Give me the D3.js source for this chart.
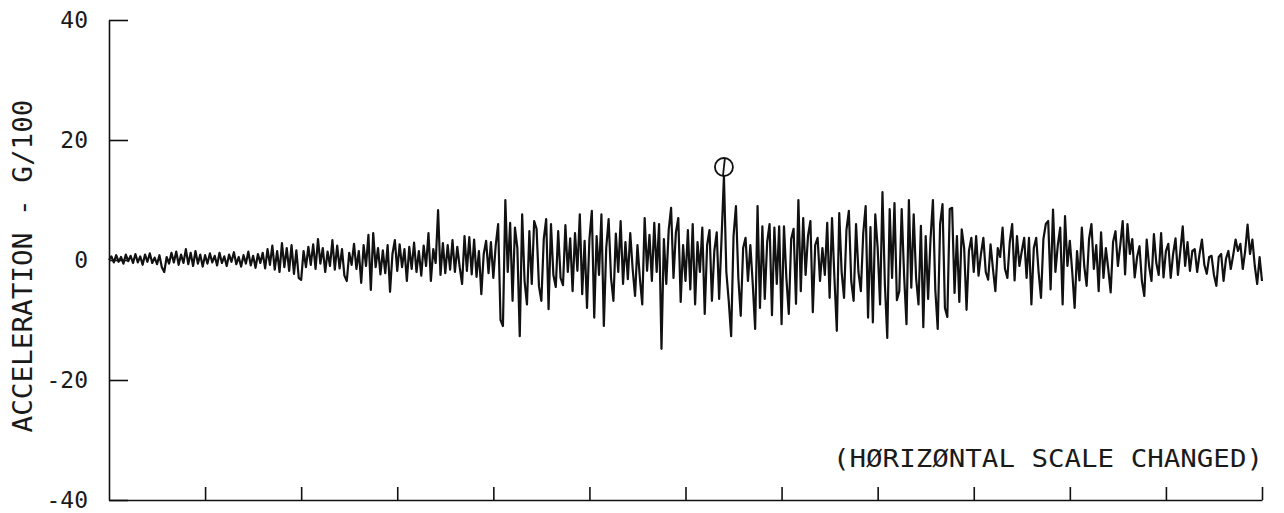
<!DOCTYPE html>
<html>
<head>
<meta charset="utf-8">
<script src="https://cdn.jsdelivr.net/npm/d3@7"></script>
<style>
  html, body { margin: 0; padding: 0; background: #fff; }
  svg { display: block; }
  text { font-family: "DejaVu Sans Mono", "Liberation Mono", monospace; fill: #1a1a1a; }
</style>
</head>
<body>
<svg id="chart" width="1284" height="513"></svg>
<script>
// ---- DATA (acceleration in G/100, 40 samples per horizontal division) ----
const yTickValues = [40, 20, 0, -20, -40];
const xTickValues = [1, 2, 3, 4, 5, 6, 7, 8, 9, 10, 11, 12];
const samplesPerDivision = 40;
const yLabel = "ACCELERATION - G/100";
const noteLabel = "(HØRIZØNTAL SCALE CHANGED)";

const seg0 = [0, 0.6, -0.4, 0.8, -0.3, 0.5, -0.6, 0.9, -0.2, 0.7, -0.5, 1.0, -0.4, 0.6, -0.8, 0.9, -0.3, 1.1, -0.5, 0.4, -0.7, 0.8, -1.2, -2.0, 0.5, -0.6, 1.2, -0.4, 1.4, -0.8, 0.9, -0.5, 1.8, -0.7, 1.2, -1.0, 1.5, -0.6, 0.9, -1.1];
const seg1 = [0.8, -0.6, 1.1, -0.4, 0.7, -0.9, 1.2, -0.5, 0.6, -1.0, 0.9, -0.3, 1.3, -0.7, 0.5, -1.1, 0.8, -0.6, 1.4, -0.9, 0.7, -1.3, 1.0, -0.5, 1.2, -1.4, 1.8, -0.8, 2.4, -1.6, 1.5, -2.0, 2.8, -1.2, 2.0, -1.8, 2.5, -2.3, 1.6, -3.0];
const seg2 = [-3.3, 1.5, -1.2, 2.2, -0.8, 2.6, -1.5, 3.5, -0.6, 2.0, -2.0, 1.4, -1.0, 3.3, -1.6, 2.4, -1.4, 1.8, -2.6, -3.5, 1.2, -0.8, 2.7, -1.5, 1.5, -3.8, 2.5, -1.0, 4.2, -5.0, 4.5, -1.2, 2.0, -2.4, 1.6, -2.2, 2.5, -5.3, 1.0, 3.3];
const seg3 = [-1.8, 2.6, -1.2, 1.8, -3.5, 2.2, -1.5, 2.9, -2.0, 1.5, -2.6, 2.4, -1.0, 4.5, -3.5, 1.8, -0.5, 8.3, -2.5, 2.8, -2.2, 2.5, -1.6, 3.3, -2.0, 2.2, -1.2, -4.0, 4.0, -1.8, 3.8, -2.4, 3.4, -2.8, 1.5, -5.7, 1.0, 3.2, -2.2, 3.0];
const seg4 = [-3.0, 2.5, 6.0, -10.0, -11.0, 10.0, -2.0, 6.2, -6.8, 5.4, 2.0, -12.7, 7.6, -3.5, -7.4, 4.8, -4.0, 6.5, 5.2, -4.4, -6.8, 3.5, 6.8, -8.2, 6.0, -2.5, -4.5, 4.8, -3.0, -4.2, 5.8, -2.0, 3.6, -5.2, 4.5, -1.8, 7.6, -5.7, 3.2, -8.0];
const seg5 = [3.5, 8.2, -9.6, 4.0, -2.5, 7.6, -11.0, 2.0, 6.8, -3.0, -6.8, 4.4, -2.0, 6.5, -4.0, 3.0, -3.2, 4.5, -1.5, -6.0, 2.5, -3.0, -7.4, 7.0, -1.8, 4.2, -3.5, 6.2, -2.0, 6.0, -14.8, 3.5, -4.0, 5.0, 8.7, -3.0, 4.6, 7.0, -7.0, 2.5];
const seg6 = [-3.5, 5.0, -4.9, 6.0, -7.4, 3.0, -2.0, 5.4, -9.0, 2.5, 5.0, -6.8, 1.5, 4.6, -6.5, 3.5, 14.0, -2.0, -6.8, -12.7, 4.0, 9.0, -3.0, -9.3, 2.0, 3.7, -3.5, 2.5, -4.0, -11.5, 9.0, -8.0, 5.6, -6.5, 3.0, 6.0, -9.2, 5.4, -4.0, 5.6];
const seg7 = [-10.7, 5.6, -3.0, -9.0, 3.5, 5.2, -7.3, 10.0, -5.2, 7.0, -2.5, 4.0, 6.5, -8.7, 2.5, 3.7, -3.5, 2.0, -2.5, 6.2, -6.3, 7.0, -3.0, -11.8, 7.8, -2.0, -6.3, 5.0, 8.2, -3.5, -6.8, 6.0, -2.0, -5.2, 4.5, 9.0, -9.6, 5.5, -10.4, 7.6];
const seg8 = [2.0, -7.4, 11.3, -4.0, -13.0, 8.5, -3.0, 9.5, -6.7, -5.2, 8.5, -2.5, -10.7, 10.0, -4.6, 7.6, -3.0, -7.4, 5.7, -11.2, 4.0, -6.5, 3.5, 10.0, -5.0, -11.5, 6.0, 9.3, -8.0, -9.5, 8.5, 8.7, -5.5, 4.0, -7.0, 5.1, 2.0, -8.3, 1.5, 3.7];
const seg9 = [-2.0, 4.0, -2.6, 1.0, 3.7, -2.0, -3.3, 2.6, -1.5, -5.2, 2.0, 0.5, 5.4, -1.5, -3.0, 3.0, 6.0, -3.4, 4.0, -1.0, 1.5, 3.7, -3.0, 3.7, -7.4, 2.0, 3.7, -2.0, -6.3, 3.5, 6.0, 6.5, -4.9, 8.4, -2.0, 2.5, 5.4, -7.4, 7.3, -1.0];
const seg10 = [3.2, -2.0, -8.0, 1.5, -3.4, 5.4, -1.0, -4.3, 3.5, 6.0, -1.5, 2.5, -5.2, 4.6, -3.0, 2.0, -1.5, -5.4, 3.0, 4.8, -1.0, 2.5, 6.5, -2.4, 6.0, 1.0, 3.5, -2.9, 0.5, 2.3, -3.5, -6.0, 3.4, -1.0, -3.5, 4.3, -0.5, -2.5, 4.5, -2.9];
const seg11 = [1.5, 2.7, -3.0, 1.0, 3.6, -2.5, 1.5, 5.6, -1.0, 3.0, -1.8, 1.5, 1.8, -2.0, 1.0, 3.4, -0.8, -2.3, 0.5, 0.7, -2.5, -4.3, 0.5, 1.0, -3.5, 0.2, 1.5, -1.5, 0.8, 3.4, 1.5, 2.7, -1.5, 1.5, 5.9, 1.0, 3.4, -1.0, -4.0, 0.5, -3.5];

const accel = [].concat(seg0, seg1, seg2, seg3, seg4, seg5, seg6, seg7, seg8, seg9, seg10, seg11);

// ---- LAYOUT ----
const svg = d3.select("#chart");
const x = d3.scaleLinear().domain([0, 12]).range([109, 1262]);
const y = d3.scaleLinear().domain([-40, 40]).range([500, 20]);
const ink = "#111";

// left axis
const yAxis = d3.axisLeft(y).tickValues(yTickValues).tickSizeInner(-19).tickSizeOuter(0).tickPadding(21).tickFormat(d3.format("d"));
const gy = svg.append("g").attr("transform", `translate(${x(0)},0)`).call(yAxis);
gy.select(".domain").attr("stroke", ink).attr("stroke-width", 1.6);
gy.selectAll(".tick line").attr("stroke", ink).attr("stroke-width", 1.6);
gy.selectAll(".tick text").attr("font-size", 23).attr("font-family", "DejaVu Sans Mono").attr("fill", "#1a1a1a")
  .text(d => d < 0 ? "-" + Math.abs(d) : d);

// bottom axis
const xAxis = d3.axisBottom(x).tickValues(xTickValues).tickSizeInner(-13).tickSizeOuter(0).tickFormat("");
const gx = svg.append("g").attr("transform", `translate(0,${y(-40)})`).call(xAxis);
gx.select(".domain").attr("stroke", ink).attr("stroke-width", 1.6);
gx.selectAll(".tick line").attr("stroke", ink).attr("stroke-width", 1.6);

// signal
const line = d3.line()
  .x((d, i) => x(i / samplesPerDivision))
  .y(d => y(d));
svg.append("path").datum(accel)
  .attr("d", line)
  .attr("fill", "none")
  .attr("stroke", ink)
  .attr("stroke-width", 2.2)
  .attr("stroke-linejoin", "round");

// peak marker
const peakIdx = d3.maxIndex(accel);
const px = x(peakIdx / samplesPerDivision), py = y(accel[peakIdx]);
const r = 9;
svg.append("circle").attr("cx", px).attr("cy", py - r).attr("r", r)
  .attr("fill", "none").attr("stroke", ink).attr("stroke-width", 1.8);
svg.append("line").attr("x1", px + 1).attr("x2", px - 1).attr("y1", py - 2 * r).attr("y2", py)
  .attr("stroke", ink).attr("stroke-width", 1.8);

// y label
svg.append("text")
  .attr("transform", `translate(32,266) rotate(-90)`)
  .attr("text-anchor", "middle")
  .attr("font-size", 27)
  .attr("textLength", 333)
  .attr("lengthAdjust", "spacingAndGlyphs")
  .text(yLabel);

// note
svg.append("text")
  .attr("x", 833).attr("y", 467)
  .attr("font-size", 25)
  .attr("textLength", 430)
  .attr("lengthAdjust", "spacingAndGlyphs")
  .text(noteLabel);
</script>
</body>
</html>
